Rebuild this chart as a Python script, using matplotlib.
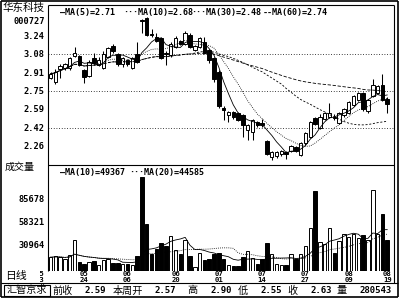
import numpy as np
import pandas as pd
import matplotlib
matplotlib.use("Agg")
import matplotlib.pyplot as plt
from matplotlib.lines import Line2D
from matplotlib.patches import Rectangle
from matplotlib.transforms import Bbox, blended_transform_factory

# ---------------- data ----------------
opens = [2.86, 2.83, 2.94, 2.95, 2.95, 3.06, 3.06, 2.93, 2.88, 3.04,
         2.98, 2.95, 3.05, 3.15, 3.08, 2.99, 3.02, 2.95, 3.08, 3.38,
         3.40, 3.255, 3.23, 3.22, 3.09, 3.07, 3.14, 3.19, 3.17, 3.245,
         3.11, 3.14, 3.18, 3.11, 3.04, 2.92, 2.60, 2.53, 2.56, 2.55,
         2.53, 2.40, 2.38, 2.47, 2.46, 2.30, 2.16, 2.17, 2.19, 2.205,
         2.21, 2.25, 2.18, 2.28, 2.34, 2.51, 2.42, 2.50, 2.52, 2.52,
         2.46, 2.53, 2.55, 2.62, 2.67, 2.73, 2.57, 2.70, 2.73, 2.80,
         2.68]
highs = [2.92, 2.94, 2.99, 3.00, 3.05, 3.14, 3.07, 2.94, 3.02, 3.09,
         3.05, 3.10, 3.14, 3.17, 3.09, 3.05, 3.03, 3.05, 3.18, 3.385,
         3.41, 3.30, 3.26, 3.23, 3.10, 3.18, 3.24, 3.20, 3.28, 3.26,
         3.16, 3.23, 3.23, 3.12, 3.05, 2.93, 2.61, 2.57, 2.57, 2.56,
         2.54, 2.45, 2.50, 2.48, 2.50, 2.31, 2.21, 2.21, 2.22, 2.21,
         2.27, 2.26, 2.29, 2.38, 2.48, 2.52, 2.54, 2.56, 2.64, 2.54,
         2.56, 2.60, 2.66, 2.71, 2.74, 2.74, 2.68, 2.85, 2.80, 2.90,
         2.69]
lows = [2.85, 2.81, 2.86, 2.93, 2.93, 3.05, 2.97, 2.82, 2.87, 2.99,
        2.97, 2.94, 3.04, 3.09, 2.97, 2.96, 2.97, 2.94, 3.00, 3.26,
        3.24, 3.23, 3.18, 3.03, 2.98, 3.05, 3.13, 3.16, 3.16, 3.13,
        3.10, 3.13, 3.08, 3.00, 2.83, 2.60, 2.49, 2.47, 2.50, 2.48,
        2.34, 2.31, 2.31, 2.43, 2.43, 2.18, 2.13, 2.15, 2.17, 2.14,
        2.20, 2.20, 2.17, 2.27, 2.33, 2.44, 2.41, 2.49, 2.51, 2.49,
        2.45, 2.52, 2.54, 2.61, 2.66, 2.57, 2.55, 2.69, 2.72, 2.66,
        2.55]
closes = [2.90, 2.92, 2.97, 2.99, 3.04, 3.09, 2.98, 2.87, 3.01, 3.00,
          3.02, 3.08, 3.13, 3.10, 2.99, 3.04, 2.99, 3.04, 3.01, 3.37,
          3.25, 3.25, 3.19, 3.04, 3.075, 3.17, 3.22, 3.17, 3.26, 3.14,
          3.15, 3.22, 3.09, 3.02, 2.85, 2.61, 2.58, 2.56, 2.52, 2.49,
          2.44, 2.44, 2.49, 2.44, 2.44, 2.19, 2.20, 2.20, 2.21, 2.185,
          2.26, 2.21, 2.28, 2.37, 2.47, 2.45, 2.52, 2.55, 2.55, 2.505,
          2.55, 2.59, 2.65, 2.70, 2.73, 2.59, 2.67, 2.80, 2.79, 2.67,
          2.63]
volumes = [16400, 17250, 16400, 14500, 19250, 36280, 10470, 8560, 10470, 11660,
           7730, 13320, 14500, 9750, 9280, 8560, 8560, 7730, 17250, 111570,
           55310, 20460, 26400, 33070, 30330, 41870, 25220, 19630, 36280, 17250,
           5350, 21170, 13320, 14500, 19630, 21170, 13680, 7370, 5710, 6540,
           16400, 23200, 15700, 8560, 14500, 33070, 19630, 8560, 7730, 7730,
           19630, 13680, 19630, 30330, 50910, 94570, 34260, 32350, 50910, 21650,
           35450, 44000, 40500, 44500, 39500, 43000, 36280, 96000, 43420, 68000,
           36800]
date_idx = [7, 16, 26, 35, 44, 53, 62, 70]
date_month = ["05", "06", "06", "07", "07", "07", "08", "08"]
date_day = ["24", "06", "20", "01", "14", "27", "09", "19"]
first_date = ("05", "13")
price_ticks = [2.26, 2.42, 2.59, 2.75, 2.91, 3.08, 3.24]
price_grid = [2.42, 2.75, 3.08]
vol_ticks = [30964, 58321, 85678]
price_legend = ["—MA(5)=2.71", "···MA(10)=2.68", "···MA(30)=2.48", "--MA(60)=2.74"]
vol_legend = ["—MA(10)=49367", "···MA(20)=44585"]
stock_name = "华东科技"
stock_code = "000727"
bottom_labels = ["前收", "本周开", "高", "低", "收", "量"]
bottom_values = ["2.59", "2.57", "2.90", "2.55", "2.63", "280543"]

# ---------------- figure ----------------
W, H = 400, 300
fig = plt.figure(figsize=(4, 3), dpi=100)
fig.patch.set_facecolor("white")

def fx(x):
    return x / W

def fy(y):
    return 1 - y / H

MONO = dict(family="DejaVu Sans Mono", weight="bold")
CJK = ["Noto Sans CJK SC", "DejaVu Sans"]

x = np.arange(len(closes))
o = np.array(opens); c = np.array(closes); hi = np.array(highs); lo = np.array(lows)
up = c >= o
XL = (-0.52, 71.31)

ax_p = fig.add_axes([fx(48), fy(165), (393.5 - 48) / W, 160 / H])
ax_v = fig.add_axes([fx(48), fy(271), (393.5 - 48) / W, 106 / H])
for ax in (ax_p, ax_v):
    ax.set_xlim(*XL)
    ax.set_facecolor("none")
    for s in ax.spines.values():
        s.set_visible(False)
    ax.set_xticks([])

# price panel
ax_p.set_ylim(2.088, 3.5135)
for g in price_grid:
    ax_p.axhline(g, color="black", lw=0.6, ls=(0, (1, 2.2)), zorder=1)
ax_p.vlines(x, lo, hi, color="black", lw=0.75, zorder=2)
body_h = np.maximum(np.abs(c - o), 0.004)
ax_p.bar(x, body_h, bottom=np.minimum(o, c), width=0.72,
         color=np.where(up, "white", "black"), edgecolor="black", linewidth=0.7, zorder=3)
cs = pd.Series(c)
ma_styles = [(5, "-"), (10, (0, (1, 1.5))), (30, (0, (2.5, 2))), (60, (0, (4, 2)))]
for n, ls in ma_styles:
    ax_p.plot(x, cs.rolling(n, min_periods=1).mean(), color="black", lw=0.6, ls=ls, zorder=4)
ax_p.set_yticks(price_ticks)
ax_p.set_yticklabels([f"{t:.2f}" for t in price_ticks], fontsize=6.2, **MONO)
ax_p.tick_params(axis="y", length=0, pad=2.2)

# volume panel
ax_v.set_ylim(0, 106 * 27357 / 23)
ax_v.bar(x, volumes, width=0.72, color=np.where(up, "white", "black"),
         edgecolor="black", linewidth=0.7, zorder=3)
vs = pd.Series(volumes, dtype=float)
ax_v.plot(x, vs.rolling(10, min_periods=1).mean(), color="black", lw=0.6, ls="-", zorder=4)
ax_v.plot(x, vs.rolling(20, min_periods=1).mean(), color="black", lw=0.6, ls=(0, (1, 1.5)), zorder=4)
ax_v.set_yticks(vol_ticks)
ax_v.set_yticklabels([str(t) for t in vol_ticks], fontsize=6.2, **MONO)
ax_v.tick_params(axis="y", length=0, pad=2.2)

# date labels (month over day)
bt = blended_transform_factory(ax_v.transData, fig.transFigure)
for i, m, d in zip(date_idx, date_month, date_day):
    ax_v.text(i, fy(276.8), f"{m}\n{d}", transform=bt, ha="center", va="center",
              fontsize=5.2, linespacing=0.9, clip_on=False, **MONO)
clipbb = Bbox.from_extents(39.5, 0, 48, 300)
t = fig.text(fx(39.5), fy(276.8), f"{first_date[0]}\n{first_date[1]}", ha="center", va="center",
             fontsize=5.2, linespacing=0.9, **MONO)
t.set_clip_box(clipbb)
t.set_clip_on(True)

# legends
for xp, s in zip([60, 123, 191, 263], price_legend):
    fig.text(fx(xp), fy(13), s, ha="left", va="center", fontsize=6.0, **MONO)
fig.text(fx(60), fy(172), vol_legend[0], ha="left", va="center", fontsize=6.0, **MONO)
fig.text(fx(204), fy(172), vol_legend[1], ha="right", va="center", fontsize=6.0, **MONO)

# left margin texts
fig.text(fx(24), fy(7.5), stock_name, ha="center", va="center", fontsize=7.6, family=CJK)
fig.text(fx(45), fy(22), stock_code, ha="right", va="center", fontsize=6.2, **MONO)
fig.text(fx(20), fy(167), "成交量", ha="center", va="center", fontsize=7.2, family=CJK)
fig.text(fx(16), fy(276.5), "日线", ha="center", va="center", fontsize=7.8, family=CJK)

# bottom bar
fig.text(fx(27), fy(290.5), "汇智京求", ha="center", va="center", fontsize=7.3, family=CJK)
lab_x = [62.5, 127.5, 192, 243, 292, 342]
val_x = [106, 176, 232, 282, 332, 392]
for xp, s in zip(lab_x, bottom_labels):
    fig.text(fx(xp), fy(290.5), s, ha="center", va="center", fontsize=7.3, family=CJK)
for xp, s in zip(val_x, bottom_values):
    fig.text(fx(xp), fy(290.5), s, ha="right", va="center", fontsize=6.5, **MONO)

# frame lines
def line(x0, y0, x1, y1, lw=0.8):
    fig.add_artist(Line2D([fx(x0), fx(x1)], [fy(y0), fy(y1)], transform=fig.transFigure,
                          color="black", lw=lw, solid_capstyle="butt"))

line(0.8, 0.8, 397.6, 0.8, 1.2)
line(0.8, 0.8, 0.8, 297.2, 1.2)
line(397.6, 0.8, 397.6, 297.2, 1.2)
line(0.8, 297.2, 397.6, 297.2, 1.2)
line(48, 5, 393.5, 5)
line(48, 5, 48, 271)
line(393.5, 5, 393.5, 283.3)
line(48, 165, 393.5, 165)
line(0.8, 283.3, 397.6, 283.3)
fig.add_artist(Rectangle((fx(4), fy(296)), (50 - 4) / W, (296 - 284.8) / H, transform=fig.transFigure,
                         fill=False, edgecolor="black", lw=0.8))

fig.savefig("out.png", dpi=100, facecolor="white")
